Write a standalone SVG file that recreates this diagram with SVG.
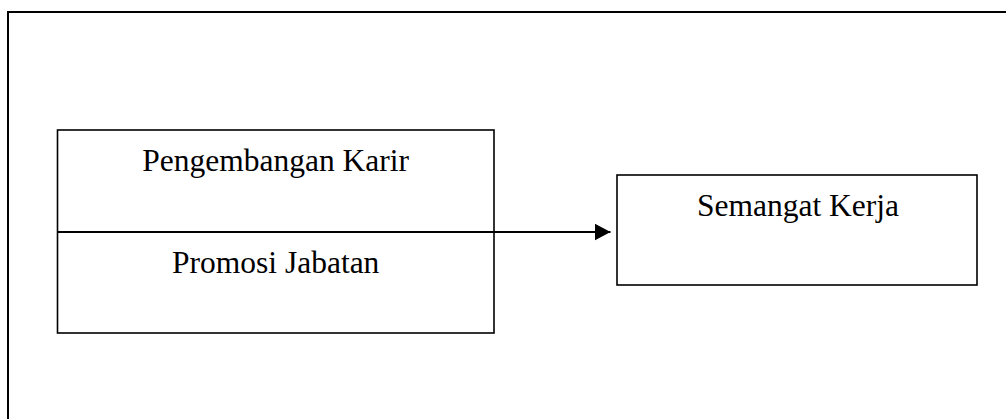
<svg xmlns="http://www.w3.org/2000/svg" width="1006" height="419" viewBox="0 0 1006 419">
<style>
.box{fill:none;stroke:#000;stroke-width:1.6}
.frame{fill:none;stroke:#000;stroke-width:2}
.t{font-family:"Liberation Serif","Times New Roman",serif;font-size:31.5px;fill:#000;text-anchor:middle}
.c{stroke:#000;stroke-width:2;fill:none}
</style>
<defs>
<marker id="ah" markerUnits="userSpaceOnUse" markerWidth="16" markerHeight="17" refX="16" refY="8.5" orient="auto">
<path d="M0,0 L16,8.5 L0,17 Z" fill="#000"/>
</marker>
</defs>
<path class="frame" d="M8,420 L8,12 L1007,12"/>
<g id="node-left">
<rect class="box" x="57.5" y="130" width="436.5" height="203"/>
<text class="t" x="275.7" y="171">Pengembangan Karir</text>
<text class="t" x="275.7" y="273">Promosi Jabatan</text>
</g>
<g id="node-right">
<rect class="box" x="617" y="175" width="360" height="110"/>
<text class="t" x="798" y="216">Semangat Kerja</text>
</g>
<g id="connectors">
<line class="c" x1="57.5" y1="232" x2="610.5" y2="232" marker-end="url(#ah)"/>
</g>
</svg>
